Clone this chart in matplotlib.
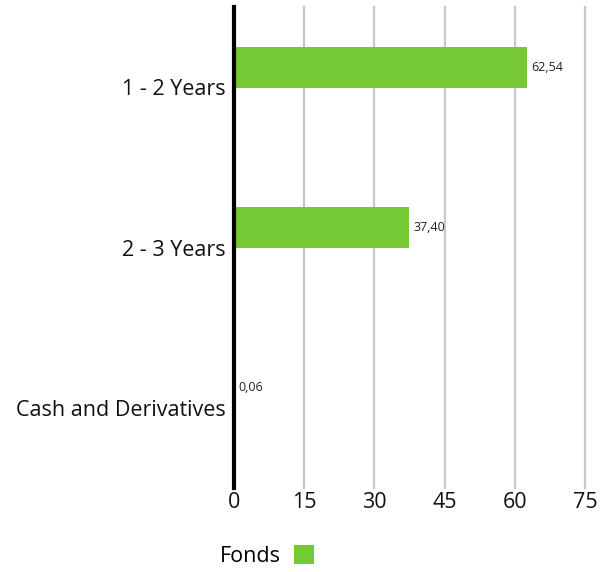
import matplotlib
matplotlib.use("Agg")
import matplotlib.pyplot as plt
import numpy as np

categories = ["1 - 2 Years", "2 - 3 Years", "Cash and Derivatives"]
fonds = [62.54, 37.40, 0.06]
value_labels = ["62,54", "37,40", "0,06"]
xticks = [0, 15, 30, 45, 60, 75]
series_name = "Fonds"
color = "#74C935"

plt.rcParams['font.family'] = ['Open Sans', 'DejaVu Sans']

fig = plt.figure(figsize=(6.08, 5.72), dpi=100)
ax = fig.add_axes([234/608, 1-488/572, (585-234)/608, (488-7)/572])

y = np.arange(len(categories))
bars = ax.barh(y - 0.125, fonds, height=0.256, color=color, label=series_name, zorder=3)
for yi, v, lab in zip(y, fonds, value_labels):
    ax.annotate(lab, xy=(v, yi - 0.125), xytext=(3, 0), textcoords="offset points",
                va="center", ha="left", fontsize=9, color="#222222")

ax.set_xlim(0, 75)
ax.set_ylim(2.5, -0.5)
ax.set_yticks(y)
ax.set_yticklabels(categories, fontsize=15.5)
ax.set_xticks(xticks)
ax.set_xticklabels([str(t) for t in xticks], fontsize=15.5)
ax.tick_params(axis='both', length=0, colors="#111111")
ax.tick_params(axis='y', pad=6)
ax.tick_params(axis='x', pad=3)
for s in ["top", "right", "bottom"]:
    ax.spines[s].set_visible(False)
ax.spines["left"].set_linewidth(3)
ax.spines["left"].set_color("black")
ax.spines["left"].set_zorder(5)
ax.xaxis.grid(True, color="#c8c8c8", linewidth=1.6, zorder=0)
for gl in ax.get_xgridlines():
    gl.set_clip_on(False)
ax.set_axisbelow(True)

fig.legend(handles=[bars], labels=[series_name], loc="center left",
           bbox_to_anchor=(220/608, 1-556/572), frameon=False, markerfirst=False,
           handlelength=0.93, handleheight=0.93, handletextpad=0.6, fontsize=15.5,
           borderaxespad=0, borderpad=0)

fig.savefig("out.png", dpi=100)
